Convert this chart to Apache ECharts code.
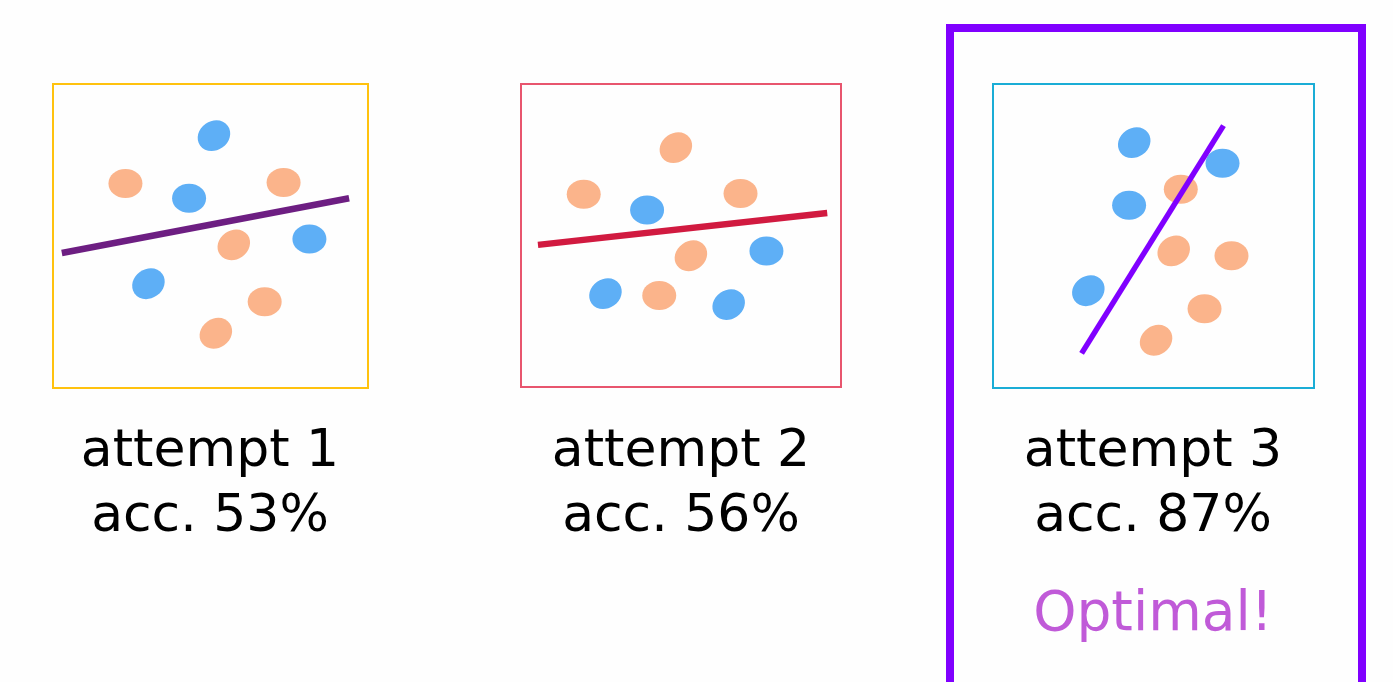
<!DOCTYPE html>
<html>
<head>
<meta charset="utf-8">
<script src="https://cdn.jsdelivr.net/npm/echarts@6/dist/echarts.min.js"></script>
<style>
html,body{margin:0;padding:0;background:#fefefe;}
#chart{width:1393px;height:682px;}
</style>
</head>
<body>
<div id="chart"></div>
<script>
// ---- data ----
const attemptLabels = ['attempt 1', 'attempt 2', 'attempt 3'];
const accuracies = [53, 56, 87];
const highlightText = 'Optimal!';

// panel 1 points [x, y] in 0..100 space
const p1Blue = [[51.1, 83.0], [43.2, 62.4], [81.4, 49.0], [30.3, 34.3]];
const p1Orange = [[23.0, 67.3], [73.2, 67.6], [57.4, 47.1], [67.2, 28.4], [51.7, 18.0]];
const p1Line = [[2.8, 44.4], [94.0, 62.4]];

const p2Blue = [[39.4, 58.4], [76.7, 44.9], [26.4, 30.8], [64.9, 27.2]];
const p2Orange = [[48.4, 79.0], [19.6, 63.6], [68.6, 63.9], [53.1, 43.3], [43.2, 30.2]];
const p2Line = [[5.3, 46.9], [95.7, 57.4]];

const p3Blue = [[44.0, 80.7], [71.5, 73.9], [42.4, 60.1], [29.7, 32.0]];
const p3Orange = [[58.5, 65.4], [56.3, 45.1], [74.3, 43.5], [65.9, 26.1], [50.8, 15.7]];
const p3Line = [[27.6, 11.4], [71.8, 86.3]];

// ---- styles ----
const ELLIPSE = 'path://M0,50C0,22,22,0,50,0C78,0,100,22,100,50C100,78,78,100,50,100C22,100,0,78,0,50Z';
const BLUE = '#5eaff6';
const ORANGE = '#fbb48b';
const tiltBlue = [[35, 0, 0, 35], [0, 0, 35, 35], [35, 0, 0, 35]];
const tiltOrange = [[0, 0, 35, 0, 35], [35, 0, 0, 35, 0], [0, 35, 0, 0, 35]];
const panels = [
  { left: 53, top: 84, width: 315, height: 304, border: '#ffc20e', line: '#6d1e82', lw: 6.5, cx: 210 },
  { left: 521, top: 84, width: 320, height: 303, border: '#e8556e', line: '#d11a40', lw: 6.5, cx: 681 },
  { left: 993, top: 84, width: 321, height: 304, border: '#1aadd6', line: '#8000ff', lw: 5.5, cx: 1153 }
];
const blues = [p1Blue, p2Blue, p3Blue];
const oranges = [p1Orange, p2Orange, p3Orange];
const lines = [p1Line, p2Line, p3Line];

const grid = [], xAxis = [], yAxis = [], series = [];
panels.forEach((p, i) => {
  grid.push({ left: p.left, top: p.top, width: p.width, height: p.height, show: true,
    borderColor: p.border, borderWidth: 2, backgroundColor: 'transparent' });
  xAxis.push({ gridIndex: i, type: 'value', min: 0, max: 100, show: false });
  yAxis.push({ gridIndex: i, type: 'value', min: 0, max: 100, show: false });
  const mk = (pts, tilts, color) => ({
    type: 'scatter', xAxisIndex: i, yAxisIndex: i, symbol: ELLIPSE,
    symbolSize: [34, 29],
    data: pts.map((d, k) => ({ value: d, symbolRotate: tilts[k] })),
    itemStyle: { color: color, opacity: 1 }, z: 2, silent: true
  });
  series.push(mk(blues[i], tiltBlue[i], BLUE));
  series.push(mk(oranges[i], tiltOrange[i], ORANGE));
  series.push({
    type: 'line', xAxisIndex: i, yAxisIndex: i, data: lines[i], showSymbol: false,
    symbol: 'none', lineStyle: { color: p.line, width: p.lw, cap: 'butt' }, z: 3, silent: true
  });
});

const font = '"DejaVu Sans", sans-serif';
const graphic = [];
panels.forEach((p, i) => {
  graphic.push({ type: 'text', x: p.cx, y: 452, style: { text: attemptLabels[i], fill: '#000',
    font: '52px ' + font, align: 'center', verticalAlign: 'middle' } });
  graphic.push({ type: 'text', x: p.cx, y: 517, style: { text: 'acc. ' + accuracies[i] + '%', fill: '#000',
    font: '52px ' + font, align: 'center', verticalAlign: 'middle' } });
});
graphic.push({ type: 'text', x: panels[2].cx, y: 616, style: { text: highlightText, fill: '#c05ad8',
  font: '55px ' + font, align: 'center', verticalAlign: 'middle' } });
graphic.push({ type: 'rect', shape: { x: 950, y: 28, width: 412, height: 700 },
  style: { fill: 'none', stroke: '#8000ff', lineWidth: 8 } });

const chart = echarts.init(document.getElementById('chart'));
chart.setOption({ backgroundColor: '#fefefe', animation: false, grid, xAxis, yAxis, series, graphic });
</script>
</body>
</html>
